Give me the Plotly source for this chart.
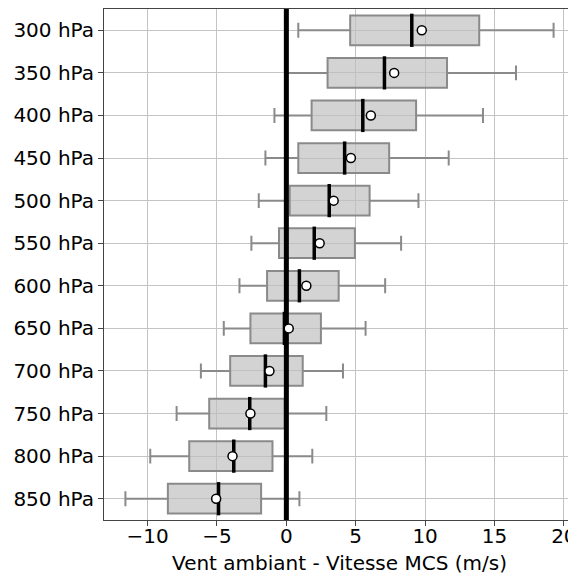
import plotly.graph_objects as go

levels = ["300 hPa", "350 hPa", "400 hPa", "450 hPa", "500 hPa", "550 hPa",
          "600 hPa", "650 hPa", "700 hPa", "750 hPa", "800 hPa", "850 hPa"]
lower_whisker = [0.86, 0.05, -0.86, -1.51, -1.99, -2.52, -3.38, -4.51, -6.16, -7.91, -9.81, -11.6]
q1 = [4.6, 2.97, 1.82, 0.86, 0.24, -0.53, -1.39, -2.59, -4.05, -5.56, -7.0, -8.54]
median = [9.04, 7.07, 5.51, 4.2, 3.09, 2.01, 0.94, -0.14, -1.51, -2.64, -3.79, -4.89]
mean = [9.76, 7.77, 6.09, 4.65, 3.41, 2.4, 1.44, 0.17, -1.22, -2.59, -3.88, -5.06]
q3 = [13.9, 11.58, 9.35, 7.41, 6.0, 4.94, 3.77, 2.49, 1.18, -0.12, -1.0, -1.82]
upper_whisker = [19.26, 16.55, 14.17, 11.7, 9.52, 8.27, 7.12, 5.71, 4.08, 2.88, 1.87, 0.94]
x_ticks = [-10, -5, 0, 5, 10, 15, 20]
x_title = "Vent ambiant - Vitesse MCS (m/s)"

pos = list(range(len(levels)))
half = 0.39

fig = go.Figure()
fig.add_trace(go.Box(
    y=pos, q1=q1, median=median, q3=q3,
    lowerfence=lower_whisker, upperfence=upper_whisker,
    orientation="h", width=0.7, whiskerwidth=0.5,
    fillcolor="rgba(190,190,190,0.68)",
    line=dict(color="#8a8a8a", width=2),
    boxpoints=False, hoverinfo="skip", showlegend=False,
))

# zero reference line
fig.add_trace(go.Scatter(
    x=[0, 0], y=[-0.5, len(levels) - 0.5], mode="lines",
    line=dict(color="black", width=5), showlegend=False, hoverinfo="skip",
))

mx, my = [], []
for p, m in zip(pos, median):
    mx += [m, m, None]
    my += [p - half, p + half, None]
fig.add_trace(go.Scatter(
    x=mx, y=my, mode="lines", line=dict(color="black", width=3.5),
    showlegend=False, hoverinfo="skip",
))

fig.add_trace(go.Scatter(
    x=mean, y=pos, mode="markers",
    marker=dict(color="white", size=9, line=dict(color="black", width=1.5)),
    showlegend=False, hoverinfo="skip",
))

lo, hi = min(lower_whisker), max(upper_whisker)
pad = 0.05 * (hi - lo)

# page body adds an 8px offset; figure sized so the plot lands where the reference has it
fig.update_layout(
    width=568, height=568,
    margin=dict(l=96, r=1, t=1, b=56),
    plot_bgcolor="white", paper_bgcolor="white",
    font=dict(family="DejaVu Sans", size=20, color="black"),
)
fig.update_xaxes(
    range=[lo - pad, hi + pad], tickvals=x_ticks, automargin=False,
    ticklabeloverflow="allow", ticklabelstandoff=-7,
    showgrid=True, gridcolor="#c4c4c4", gridwidth=1, zeroline=False,
    showline=True, mirror=True, linecolor="#444", linewidth=1,
    ticks="outside", ticklen=5, tickcolor="#444",
    title=dict(text=x_title, font=dict(size=20), standoff=8),
)
fig.update_yaxes(
    range=[len(levels) - 0.5, -0.5], tickvals=pos, ticktext=levels, automargin=False,
    showgrid=True, gridcolor="#c4c4c4", gridwidth=1, zeroline=False,
    showline=True, mirror=True, linecolor="#444", linewidth=1,
    ticks="outside", ticklen=5, tickcolor="#444",
)

fig.write_html("out.html")
